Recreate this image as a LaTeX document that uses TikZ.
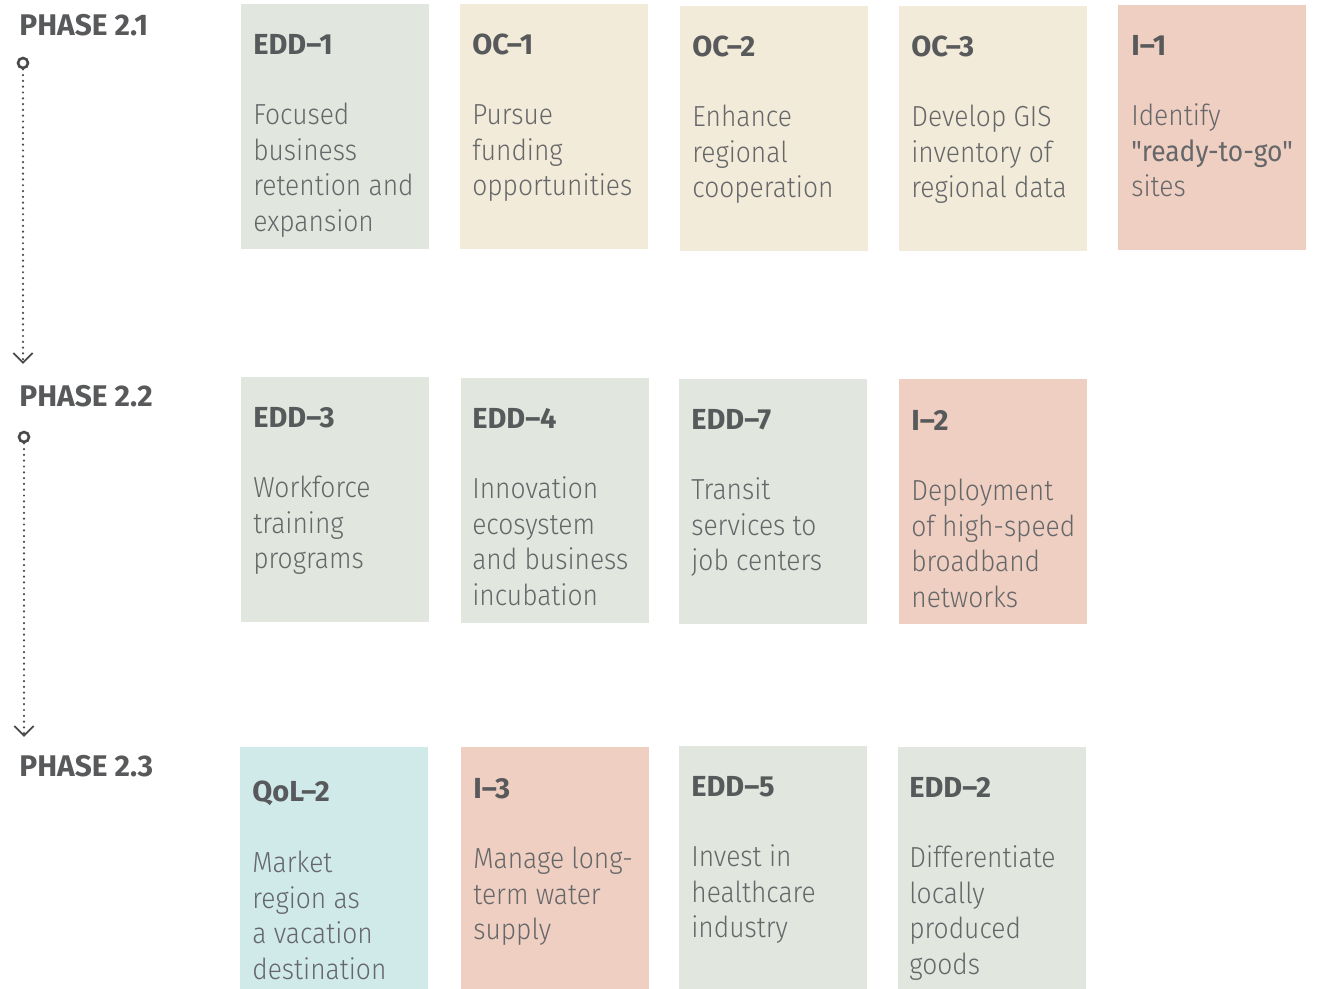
\documentclass[tikz,border=0pt]{standalone}
\usepackage{fontspec}
\usepackage{xcolor}
\usepackage{tikz}
\usetikzlibrary{positioning, arrows.meta, calc}

\newfontfamily\bodyfam{Fira Sans Light}[BoldFont={Fira Sans}, FakeStretch=0.91]
\newfontfamily\headfam{Fira Sans}

\definecolor{eddgreen}{HTML}{E1E6DF}
\definecolor{ocbeige}{HTML}{F2EBDA}
\definecolor{isalmon}{HTML}{EFCFC2}
\definecolor{qolblue}{HTML}{D0EAEA}
\definecolor{titlegray}{HTML}{58595B}
\definecolor{bodygray}{HTML}{666769}
\definecolor{linegray}{HTML}{4A4A4A}

\tikzset{
    card/.style={rectangle, anchor=north west, minimum width=3.76cm, minimum height=4.9cm, inner sep=0pt},
    cardtitle/.style={anchor=base west, inner sep=0pt, text=titlegray, font=\headfam\bfseries\fontsize{16.5}{19}\selectfont},
    cardtext/.style={anchor=base west, inner sep=0pt, text=bodygray, font=\bodyfam\fontsize{16.5}{20.2}\selectfont},
    phase/.style={anchor=base west, inner sep=0pt, text=titlegray, font=\headfam\bfseries\fontsize{17}{19}\selectfont},
    phasedot/.style={circle, draw=linegray, line width=1.5pt, minimum size=0.2cm, inner sep=0pt},
    flow/.style={linegray, line width=1.4pt, line cap=round, dash pattern=on 0pt off 3.3pt,
        -{Straight Barb[length=5.5pt, width=11pt, line width=1.1pt]}}
}
% lines of a card text, first baseline on the node's base
\newcommand{\lines}[1]{\begin{tabular}[t]{@{}l@{}}#1\end{tabular}}

\begin{document}
\begin{tikzpicture}[x=0.02cm, y=-0.02cm]
    \useasboundingbox (0,0) rectangle (1330,989);

    % Phase labels and timeline
    \node[phase] (phase1) at (19,36) {PHASE 2.1};
    \node[phase] (phase2) at (19,407) {PHASE 2.2};
    \node[phase] (phase3) at (19,777) {PHASE 2.3};

    \node[phasedot] (dot1) at (23,63) {};
    \coordinate (tip1) at (23,364);
    \draw[flow] (dot1) -- (tip1);

    \node[phasedot] (dot2) at (24,437) {};
    \coordinate (tip2) at (24,737);
    \draw[flow] (dot2) -- (tip2);

    % Phase 2.1
    \node[card, fill=eddgreen] (edd1) at (241,4) {};
    \node[cardtitle] (edd1-title) at ([shift={(12,51)}]edd1.north west) {EDD–1};
    \node[cardtext] (edd1-text) at ([shift={(12,121)}]edd1.north west) {\lines{Focused\\business\\retention and\\expansion}};

    \node[card, fill=ocbeige] (oc1) at (460,4) {};
    \node[cardtitle] (oc1-title) at ([shift={(12,51)}]oc1.north west) {OC–1};
    \node[cardtext] (oc1-text) at ([shift={(12,121)}]oc1.north west) {\lines{Pursue\\funding\\opportunities}};

    \node[card, fill=ocbeige] (oc2) at (680,6) {};
    \node[cardtitle] (oc2-title) at ([shift={(12,51)}]oc2.north west) {OC–2};
    \node[cardtext] (oc2-text) at ([shift={(12,121)}]oc2.north west) {\lines{Enhance\\regional\\cooperation}};

    \node[card, fill=ocbeige] (oc3) at (899,6) {};
    \node[cardtitle] (oc3-title) at ([shift={(12,51)}]oc3.north west) {OC–3};
    \node[cardtext] (oc3-text) at ([shift={(12,121)}]oc3.north west) {\lines{Develop GIS\\inventory of\\regional data}};

    \node[card, fill=isalmon] (i1) at (1118,5) {};
    \node[cardtitle] (i1-title) at ([shift={(13,51)}]i1.north west) {I–1};
    \node[cardtext] (i1-text) at ([shift={(13,121)}]i1.north west) {\lines{Identify\\{\bfseries"ready-to-go"}\\sites}};

    % Phase 2.2
    \node[card, fill=eddgreen] (edd3) at (241,377) {};
    \node[cardtitle] (edd3-title) at ([shift={(12,51)}]edd3.north west) {EDD–3};
    \node[cardtext] (edd3-text) at ([shift={(12,121)}]edd3.north west) {\lines{Workforce\\training\\programs}};

    \node[card, fill=eddgreen] (edd4) at (461,378) {};
    \node[cardtitle] (edd4-title) at ([shift={(11,51)}]edd4.north west) {EDD–4};
    \node[cardtext] (edd4-text) at ([shift={(11,121)}]edd4.north west) {\lines{Innovation\\ecosystem\\and business\\incubation}};

    \node[card, fill=eddgreen] (edd7) at (679,379) {};
    \node[cardtitle] (edd7-title) at ([shift={(12,51)}]edd7.north west) {EDD–7};
    \node[cardtext] (edd7-text) at ([shift={(12,121)}]edd7.north west) {\lines{Transit\\services to\\job centers}};

    \node[card, fill=isalmon] (i2) at (899,379) {};
    \node[cardtitle] (i2-title) at ([shift={(12,52)}]i2.north west) {I–2};
    \node[cardtext] (i2-text) at ([shift={(12,122)}]i2.north west) {\lines{Deployment\\of high-speed\\broadband\\networks}};

    % Phase 2.3
    \node[card, fill=qolblue, minimum height=4.84cm] (qol2) at (240,747) {};
    \node[cardtitle] (qol2-title) at ([shift={(12,55)}]qol2.north west) {QoL–2};
    \node[cardtext] (qol2-text) at ([shift={(12,126)}]qol2.north west) {\lines{Market\\region as\\a vacation\\destination}};

    \node[card, fill=isalmon, minimum height=4.84cm] (i3) at (461,747) {};
    \node[cardtitle] (i3-title) at ([shift={(12,52)}]i3.north west) {I–3};
    \node[cardtext] (i3-text) at ([shift={(12,122)}]i3.north west) {\lines{Manage long-\\term water\\supply}};

    \node[card, fill=eddgreen, minimum height=4.86cm] (edd5) at (679,746) {};
    \node[cardtitle] (edd5-title) at ([shift={(12,51)}]edd5.north west) {EDD–5};
    \node[cardtext] (edd5-text) at ([shift={(12,121)}]edd5.north west) {\lines{Invest in\\healthcare\\industry}};

    \node[card, fill=eddgreen, minimum height=4.84cm] (edd2) at (898,747) {};
    \node[cardtitle] (edd2-title) at ([shift={(11,51)}]edd2.north west) {EDD–2};
    \node[cardtext] (edd2-text) at ([shift={(11,121)}]edd2.north west) {\lines{Differentiate\\locally\\produced\\goods}};
\end{tikzpicture}
\end{document}
